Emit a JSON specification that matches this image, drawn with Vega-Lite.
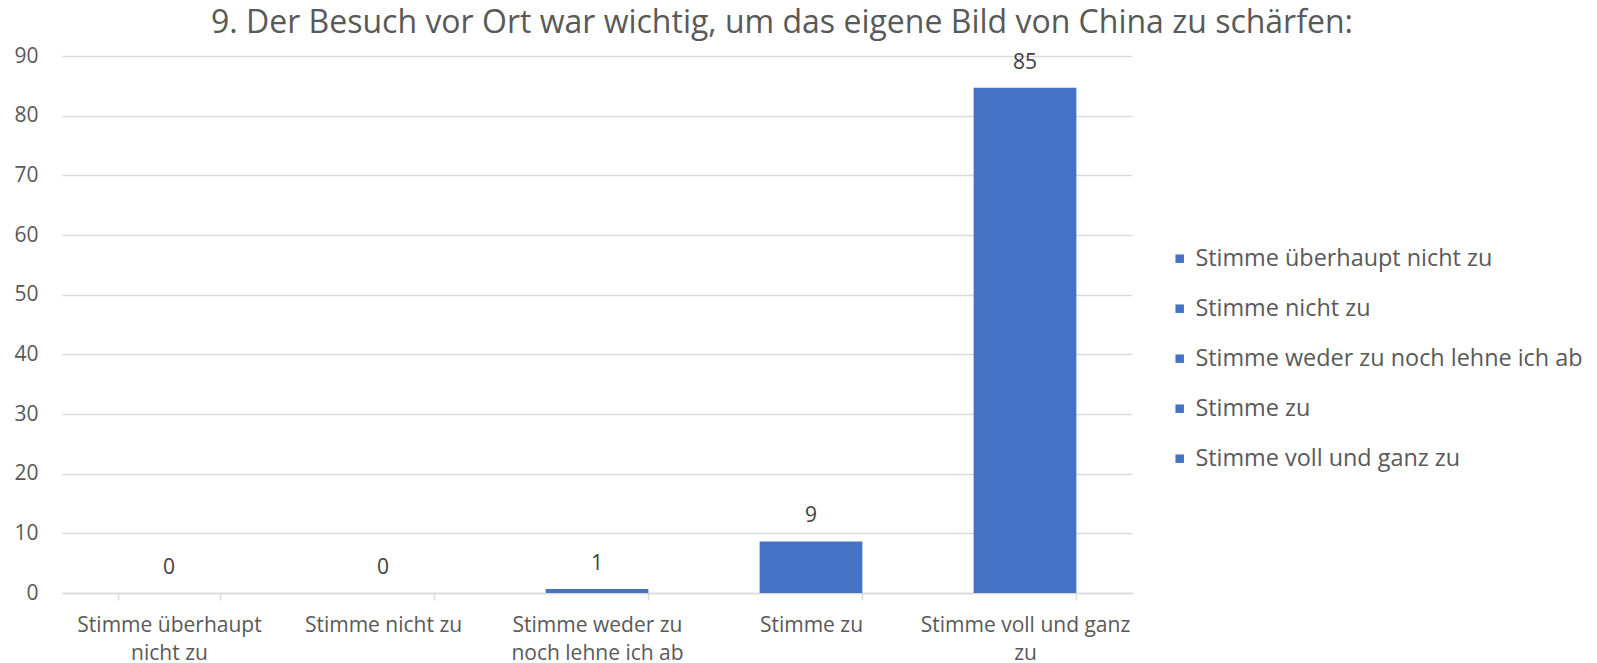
{
  "$schema": "https://vega.github.io/schema/vega-lite/v6.json",
  "width": 1070,
  "height": 537,
  "autosize": {"type": "none"},
  "padding": {"left": 62, "top": 56, "right": 465, "bottom": 70},
  "background": "white",
  "config": {"view": {"stroke": null}, "font": "Open Sans"},
  "title": {
    "text": "9. Der Besuch vor Ort war wichtig, um das eigene Bild von China zu schärfen:",
    "anchor": "start",
    "frame": "group",
    "dx": 149,
    "fontSize": 32,
    "font": "Open Sans",
    "fontWeight": "normal",
    "color": "#595959",
    "offset": 5
  },
  "data": {
    "values": [
      {"kategorie": "Stimme überhaupt nicht zu", "wert": 0},
      {"kategorie": "Stimme nicht zu", "wert": 0},
      {"kategorie": "Stimme weder zu noch lehne ich ab", "wert": 0.67},
      {"kategorie": "Stimme zu", "wert": 8.64},
      {"kategorie": "Stimme voll und ganz zu", "wert": 84.66}
    ]
  },
  "encoding": {
    "x": {
      "field": "kategorie",
      "type": "nominal",
      "sort": null,
      "scale": {"paddingInner": 0.52, "paddingOuter": 0.26},
      "axis": {
        "title": null,
        "labelAngle": 0,
        "labelFontSize": 21,
        "labelColor": "#595959",
        "labelFont": "Open Sans",
        "labelPadding": 14,
        "labelLineHeight": 28,
        "labelLimit": 300,
        "labelExpr": "datum.value == 'Stimme überhaupt nicht zu' ? ['Stimme überhaupt', 'nicht zu'] : datum.value == 'Stimme weder zu noch lehne ich ab' ? ['Stimme weder zu', 'noch lehne ich ab'] : datum.value == 'Stimme voll und ganz zu' ? ['Stimme voll und ganz', 'zu'] : datum.value",
        "domainColor": "#d9d9d9",
        "domainWidth": 1.5,
        "tickBand": "extent",
        "tickColor": "#d9d9d9",
        "tickWidth": 1.5,
        "tickSize": 7,
        "grid": false
      }
    },
    "y": {
      "field": "wert",
      "type": "quantitative",
      "scale": {"domain": [0, 90], "nice": false},
      "axis": {
        "title": null,
        "values": [0, 10, 20, 30, 40, 50, 60, 70, 80, 90],
        "labelFontSize": 21,
        "labelColor": "#595959",
        "labelFont": "Open Sans",
        "labelPadding": 24,
        "ticks": false,
        "domain": false,
        "grid": true,
        "gridColor": "#d9d9d9",
        "gridWidth": 1.5
      }
    }
  },
  "layer": [
    {
      "mark": {"type": "bar"},
      "encoding": {
        "color": {
          "field": "kategorie",
          "type": "nominal",
          "sort": null,
          "scale": {
            "domain": ["Stimme überhaupt nicht zu", "Stimme nicht zu", "Stimme weder zu noch lehne ich ab", "Stimme zu", "Stimme voll und ganz zu"],
            "range": ["#4472C4", "#4472C4", "#4472C4", "#4472C4", "#4472C4"]
          },
          "legend": {
            "title": null,
            "orient": "none",
            "legendX": 1106,
            "legendY": 191,
            "padding": 0,
            "symbolType": "square",
            "symbolSize": 72,
            "symbolStrokeWidth": 0,
            "labelFontSize": 23.4,
            "labelFont": "Open Sans",
            "labelColor": "#595959",
            "labelOffset": 4,
            "labelLimit": 400,
            "rowPadding": 25
          }
        }
      }
    },
    {
      "mark": {
        "type": "text",
        "baseline": "alphabetic",
        "dy": -19,
        "fontSize": 21,
        "font": "Open Sans",
        "color": "#404040"
      },
      "encoding": {
        "text": {"field": "wert", "type": "quantitative", "format": ".0f"}
      }
    }
  ]
}
